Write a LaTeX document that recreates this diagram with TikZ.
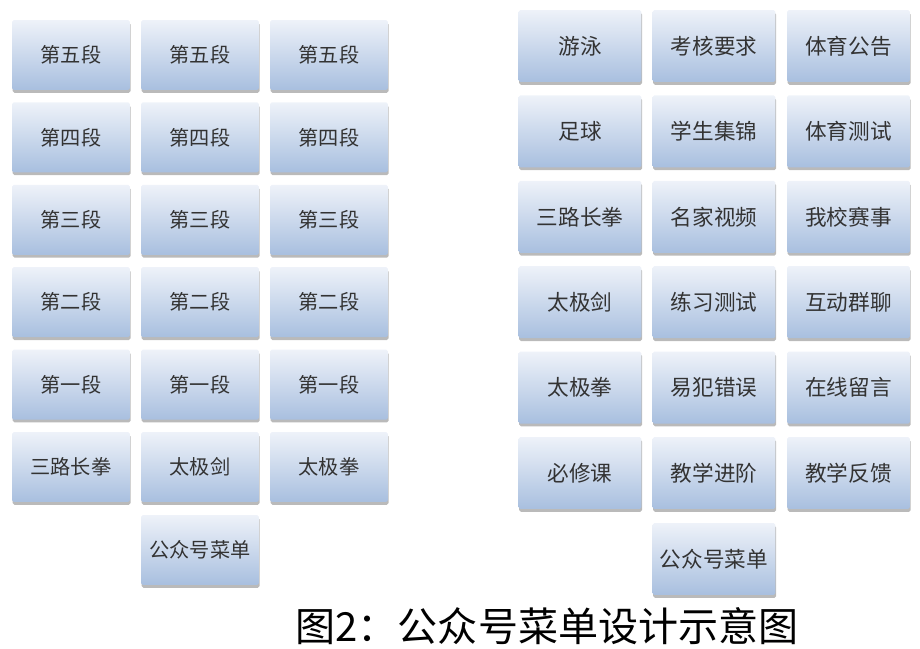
\documentclass[tikz,border=0pt]{standalone}
\usepackage{fontspec}
\newfontfamily\cjk{Noto Sans CJK SC}
\usetikzlibrary{shadows}
\definecolor{boxtop}{HTML}{EEF2F9}
\definecolor{boxbot}{HTML}{A8BFDF}
\definecolor{menutext}{HTML}{333333}
\tikzset{menubox/.style={rectangle, rounded corners=1pt, top color=boxtop, bottom color=boxbot, draw=none,
    drop shadow={shadow xshift=0.4pt, shadow yshift=-1.6pt, opacity=0.45, fill=black!60},
    text=menutext, inner sep=0pt},
  leftbox/.style={menubox, minimum width=2.36cm, minimum height=1.4cm, font=\cjk\fontsize{11.5}{12}\selectfont},
  rightbox/.style={menubox, minimum width=2.46cm, minimum height=1.44cm, font=\cjk\fontsize{12.3}{13}\selectfont}}

\begin{document}
\begin{tikzpicture}[x=0.02cm, y=-0.02cm, line join=round, line cap=round]
	\useasboundingbox (0,0) rectangle (920,649);
	\foreach \lab [count=\r] in {第五段,第四段,第三段,第二段,第一段}{
		\foreach \xc [count=\c] in {71,200,329}
			\node[leftbox] (l-\r-\c) at (\xc,{55+82.4*(\r-1)}) {\lab};
	}
	\node[leftbox] (l-6-1) at (71,467) {三路长拳};
	\node[leftbox] (l-6-2) at (200,467) {太极剑};
	\node[leftbox] (l-6-3) at (329,467) {太极拳};
	\node[leftbox] (lmenu) at (200,550) {公众号菜单};
	\foreach \a/\b/\d [count=\r] in {游泳/考核要求/体育公告, 足球/学生集锦/体育测试, 三路长拳/名家视频/我校赛事,
		太极剑/练习测试/互动群聊, 太极拳/易犯错误/在线留言, 必修课/教学进阶/教学反馈}{
		\node[rightbox] (r-\r-1) at (580,{46+85.4*(\r-1)}) {\a};
		\node[rightbox] (r-\r-2) at (714,{46+85.4*(\r-1)}) {\b};
		\node[rightbox] (r-\r-3) at (848.5,{46+85.4*(\r-1)}) {\d};
	}
	\node[rightbox] (rmenu) at (714,559) {公众号菜单};
	\node[font=\cjk\fontsize{22.8}{25}\selectfont, inner sep=0pt] (caption) at (547,626) {图2：公众号菜单设计示意图};
\end{tikzpicture}
\end{document}
